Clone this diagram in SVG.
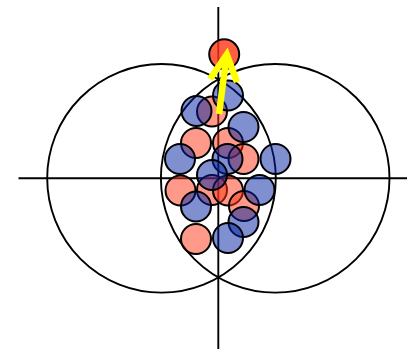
<svg xmlns="http://www.w3.org/2000/svg" width="407" height="349" viewBox="0 0 407 349">
<style>
.ax{stroke:#000;stroke-width:1.9;fill:none}
.big{stroke:#000;stroke-width:1.9;fill:none}
.r{fill:#ff3515;fill-opacity:0.5;stroke:#000;stroke-width:2}
.b{fill:#0020a0;fill-opacity:0.5;stroke:#000;stroke-width:2}
.top{fill:#ff3515;fill-opacity:0.8;stroke:#000;stroke-width:2}
</style>
<rect width="407" height="349" fill="#fff"/>
<g id="axes">
<line class="ax" x1="18.5" y1="178.3" x2="407" y2="178.3"/>
<line class="ax" x1="218.3" y1="7" x2="218.3" y2="349"/>
</g>
<g id="big-circles">
<circle id="left-circle" class="big" cx="161.5" cy="178.3" r="114.3"/>
<circle id="right-circle" class="big" cx="275.2" cy="178.3" r="114.3"/>
</g>
<g id="particles">
<circle id="r1" class="r" cx="212" cy="111.5" r="15"/>
<circle id="r2" class="r" cx="196" cy="143" r="15"/>
<circle id="r3" class="r" cx="228" cy="143" r="15"/>
<circle id="r4" class="r" cx="243.5" cy="159" r="15"/>
<circle id="r5" class="r" cx="180.5" cy="190.5" r="15"/>
<circle id="r6" class="r" cx="212" cy="190" r="15"/>
<circle id="r7" class="r" cx="228" cy="190.5" r="15"/>
<circle id="r8" class="r" cx="244" cy="206" r="15"/>
<circle id="r9" class="r" cx="196" cy="239" r="15"/>
<circle id="b1" class="b" cx="228" cy="95.5" r="15"/>
<circle id="b2" class="b" cx="196.5" cy="111" r="15"/>
<circle id="b3" class="b" cx="243.5" cy="127" r="15"/>
<circle id="b4" class="b" cx="180" cy="159" r="15"/>
<circle id="b5" class="b" cx="227.5" cy="159" r="15"/>
<circle id="b6" class="b" cx="275.5" cy="159" r="15"/>
<circle id="b7" class="b" cx="212" cy="175" r="15"/>
<circle id="b8" class="b" cx="259.5" cy="190" r="15"/>
<circle id="b9" class="b" cx="196" cy="206.5" r="15"/>
<circle id="b10" class="b" cx="243.5" cy="222" r="15"/>
<circle id="b11" class="b" cx="228" cy="238" r="15"/>
<circle id="top-particle" class="top" cx="224.2" cy="54.3" r="15"/>
</g>
<g id="arrow" fill="none" stroke="#ffff00" stroke-width="6.5">
<line x1="219" y1="114" x2="226.5" y2="56"/>
<polyline points="210,79 226.8,54.5 237,82" stroke-linejoin="miter"/>
</g>
</svg>
